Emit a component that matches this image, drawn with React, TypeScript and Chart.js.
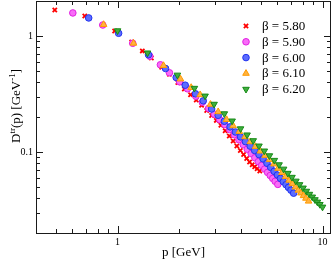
import React, { useEffect, useRef } from 'react';
import { Chart, registerables } from 'chart.js';
import { drawPoint } from 'chart.js/helpers';

Chart.register(...registerables);

// ---- data (p in GeV, D^tr(p) in GeV^-1) ----
const p580 = [0.494, 0.692, 0.968, 1.172, 1.321, 1.462, 1.641, 1.791, 1.968, 2.118, 2.270, 2.421, 2.570, 2.723, 2.877, 3.034, 3.192, 3.350, 3.508, 3.664, 3.819, 3.972, 4.121, 4.266, 4.406, 4.539, 4.667, 4.797, 4.943];
const d580 = [1.675, 1.486, 1.102, 0.885, 0.743, 0.646, 0.538, 0.468, 0.397, 0.349, 0.311, 0.280, 0.252, 0.2275, 0.206, 0.187, 0.170, 0.152, 0.137, 0.124, 0.1126, 0.103, 0.0948, 0.0879, 0.0819, 0.0776, 0.0745, 0.0715, 0.0684];

const p590 = [0.605, 0.847, 1.186, 1.436, 1.618, 1.791, 2.009, 2.193, 2.410, 2.594, 2.780, 2.965, 3.148, 3.334, 3.524, 3.715, 3.908, 4.102, 4.295, 4.487, 4.677, 4.864, 5.047, 5.224, 5.395, 5.559, 5.715, 5.875, 6.053];
const d590 = [1.578, 1.242, 0.864, 0.669, 0.564, 0.481, 0.402, 0.350, 0.302, 0.268, 0.237, 0.2115, 0.190, 0.172, 0.156, 0.1407, 0.1273, 0.1156, 0.1055, 0.0967, 0.0890, 0.0824, 0.0765, 0.0712, 0.0666, 0.0626, 0.0591, 0.0558, 0.0525];

const p600 = [0.723, 1.012, 1.416, 1.714, 1.932, 2.138, 2.399, 2.618, 2.877, 3.097, 3.319, 3.540, 3.758, 3.981, 4.207, 4.436, 4.667, 4.898, 5.129, 5.358, 5.585, 5.808, 6.026, 6.237, 6.442, 6.637, 6.823, 7.015, 7.228];
const d600 = [1.429, 1.054, 0.688, 0.524, 0.438, 0.376, 0.317, 0.2756, 0.2344, 0.2067, 0.1837, 0.1644, 0.1485, 0.1348, 0.1227, 0.1122, 0.1029, 0.0948, 0.0871, 0.0799, 0.0736, 0.0680, 0.0632, 0.0591, 0.0554, 0.0522, 0.0494, 0.0468, 0.0441];

const p610 = [0.855, 1.197, 1.675, 2.028, 2.286, 2.529, 2.838, 3.097, 3.404, 3.664, 3.926, 4.188, 4.446, 4.710, 4.977, 5.248, 5.521, 5.794, 6.067, 6.339, 6.607, 6.871, 7.129, 7.379, 7.621, 7.852, 8.072, 8.299, 8.551];
const d610 = [1.253, 0.865, 0.555, 0.425, 0.359, 0.311, 0.257, 0.222, 0.190, 0.168, 0.150, 0.1349, 0.1223, 0.1113, 0.1016, 0.0932, 0.0857, 0.0786, 0.0720, 0.0663, 0.0613, 0.0569, 0.0531, 0.0497, 0.0467, 0.0442, 0.0419, 0.0398, 0.0376];

const p620 = [1.0, 1.400, 1.959, 2.371, 2.673, 2.958, 3.319, 3.622, 3.981, 4.285, 4.592, 4.898, 5.200, 5.508, 5.821, 6.138, 6.457, 6.776, 7.096, 7.413, 7.727, 8.035, 8.337, 8.630, 8.913, 9.183, 9.441, 9.705, 10.0];
const d620 = [1.109, 0.714, 0.460, 0.354, 0.3035, 0.258, 0.2136, 0.185, 0.1585, 0.1403, 0.1252, 0.1126, 0.1020, 0.0928, 0.0847, 0.0776, 0.0712, 0.0655, 0.0605, 0.0561, 0.0523, 0.0489, 0.0459, 0.0432, 0.0409, 0.0388, 0.0370, 0.0353, 0.0335];

const seriesLabels = ['β = 5.80', 'β = 5.90', 'β = 6.00', 'β = 6.10', 'β = 6.20'];

const xTicks = [0.4, 0.5, 0.6, 0.7, 0.8, 0.9, 1, 2, 3, 4, 5, 6, 7, 8, 9, 10];
const xTickLabels = ['1', '10'];
const yTicks = [0.02, 0.03, 0.04, 0.05, 0.06, 0.07, 0.08, 0.09, 0.1, 0.2, 0.3, 0.4, 0.5, 0.6, 0.7, 0.8, 0.9, 1, 2];
const yTickLabels = ['0.1', '1'];

const SERIF = '"Liberation Serif", "Times New Roman", serif';

const isDecade = (v: number) => {
  const l = Math.log10(v);
  return Math.abs(l - Math.round(l)) < 1e-6;
};

const toPts = (px: number[], py: number[]) => px.map((x, i) => ({ x, y: py[i] }));

const styles = [
  { pointStyle: 'crossRot', radius: 3, rotation: 0, borderWidth: 1.8, fill: '#ff0000', stroke: '#ff0000' },
  { pointStyle: 'circle', radius: 3.3, rotation: 0, borderWidth: 1, fill: '#f86cf8', stroke: '#e020e0' },
  { pointStyle: 'circle', radius: 3.3, rotation: 0, borderWidth: 1, fill: '#5c6cff', stroke: '#2233ee' },
  { pointStyle: 'triangle', radius: 3.8, rotation: 0, borderWidth: 1, fill: '#ffb340', stroke: '#ff9a00' },
  { pointStyle: 'triangle', radius: 3.8, rotation: 180, borderWidth: 1, fill: '#3fae3f', stroke: '#168a16' },
];

const framePlugin = {
  id: 'frameTicks',
  afterDatasetsDraw(chart: any) {
    const { ctx, chartArea: a, scales } = chart;
    ctx.save();
    ctx.strokeStyle = '#1a1a1a';
    ctx.lineWidth = 1;
    ctx.beginPath();
    for (const t of scales.x.ticks) {
      const px = Math.round(scales.x.getPixelForValue(t.value)) + 0.5;
      const len = isDecade(t.value) ? 7 : 4;
      ctx.moveTo(px, a.bottom);
      ctx.lineTo(px, a.bottom - len);
      ctx.moveTo(px, a.top);
      ctx.lineTo(px, a.top + len);
    }
    for (const t of scales.y.ticks) {
      const py = Math.round(scales.y.getPixelForValue(t.value)) + 0.5;
      const len = isDecade(t.value) ? 7 : 4;
      ctx.moveTo(a.left, py);
      ctx.lineTo(a.left + len, py);
      ctx.moveTo(a.right, py);
      ctx.lineTo(a.right - len, py);
    }
    ctx.stroke();
    ctx.strokeRect(a.left + 0.5, a.top + 0.5, a.right - a.left - 1, a.bottom - a.top);
    ctx.restore();
  },
  afterDraw(chart: any) {
    const { ctx } = chart;
    // legend
    ctx.save();
    chart.data.datasets.forEach((ds: any, i: number) => {
      const st = styles[i];
      const y = 26 + i * 15.8;
      ctx.fillStyle = st.fill;
      ctx.strokeStyle = st.stroke;
      ctx.lineWidth = st.borderWidth;
      drawPoint(ctx, { pointStyle: st.pointStyle, radius: st.radius, rotation: st.rotation, borderWidth: st.borderWidth }, 246, y);
      ctx.fillStyle = '#000';
      ctx.font = '13px ' + SERIF;
      ctx.textBaseline = 'middle';
      ctx.textAlign = 'left';
      ctx.fillText(ds.label, 262, y + 0.5);
    });
    ctx.restore();

    // y axis title with superscripts
    ctx.save();
    ctx.translate(19.5, 106);
    ctx.rotate(-Math.PI / 2);
    ctx.fillStyle = '#000';
    ctx.textBaseline = 'alphabetic';
    const parts = [
      { t: 'D', sup: false },
      { t: 'tr', sup: true },
      { t: '(p) [GeV', sup: false },
      { t: '-1', sup: true },
      { t: ']', sup: false },
    ];
    const fontFor = (sup: boolean) => (sup ? '9px ' : '13px ') + SERIF;
    let total = 0;
    for (const p of parts) {
      ctx.font = fontFor(p.sup);
      total += ctx.measureText(p.t).width;
    }
    let x = -total / 2;
    for (const p of parts) {
      ctx.font = fontFor(p.sup);
      ctx.fillText(p.t, x, p.sup ? -5 : 0);
      x += ctx.measureText(p.t).width;
    }
    ctx.restore();
  },
};

export default function App() {
  const ref = useRef<HTMLCanvasElement | null>(null);
  useEffect(() => {
    document.body.style.margin = '0';
    if (!ref.current) return;
    const all = [
      toPts(p580, d580),
      toPts(p590, d590),
      toPts(p600, d600),
      toPts(p610, d610),
      toPts(p620, d620),
    ];
    const chart = new Chart(ref.current, {
      type: 'scatter',
      data: {
        datasets: all.map((pts, i) => ({
          label: seriesLabels[i],
          data: pts,
          order: 4 - i,
          pointStyle: styles[i].pointStyle as any,
          pointRadius: styles[i].radius,
          pointRotation: styles[i].rotation,
          pointBorderWidth: styles[i].borderWidth,
          pointBackgroundColor: styles[i].fill,
          pointBorderColor: styles[i].stroke,
          showLine: false,
        })),
      },
      options: {
        animation: false,
        responsive: false,
        devicePixelRatio: 1,
        layout: { autoPadding: false, padding: { top: 1, right: 1, left: 0, bottom: 0 } },
        plugins: { legend: { display: false }, tooltip: { enabled: false } },
        scales: {
          x: {
            type: 'logarithmic',
            min: 0.4,
            max: 11,
            border: { display: false },
            grid: { display: false, drawTicks: false, tickLength: 0 },
            afterBuildTicks: (s: any) => {
              s.ticks = xTicks.map((v) => ({ value: v, major: isDecade(v) }));
            },
            afterFit: (s: any) => {
              s.height = 27;
              s.paddingLeft = 0;
              s.paddingRight = 0;
            },
            ticks: {
              autoSkip: false,
              maxRotation: 0,
              padding: 3,
              color: '#000',
              font: { family: SERIF, size: 10 },
              callback: (v: any) => {
                const s = String(Number(v));
                return xTickLabels.includes(s) ? s : '';
              },
            },
            title: {
              display: true,
              text: 'p [GeV]',
              color: '#000',
              font: { family: SERIF, size: 13 },
              padding: { top: 0, bottom: 0 },
            },
          },
          y: {
            type: 'logarithmic',
            min: 0.02,
            max: 2,
            border: { display: false },
            grid: { display: false, drawTicks: false, tickLength: 0 },
            afterBuildTicks: (s: any) => {
              s.ticks = yTicks.map((v) => ({ value: v, major: isDecade(v) }));
            },
            afterFit: (s: any) => {
              s.width = 36;
              s.paddingTop = 0;
              s.paddingBottom = 0;
            },
            ticks: {
              autoSkip: false,
              padding: 3,
              color: '#000',
              font: { family: SERIF, size: 10 },
              callback: (v: any) => {
                const s = String(Number(v));
                return yTickLabels.includes(s) ? s : '';
              },
            },
          },
        },
      },
      plugins: [framePlugin],
    });
    return () => chart.destroy();
  }, []);
  return (
    <div style={{ position: 'fixed', left: 0, top: 0, width: 332, height: 260, background: '#fff' }}>
      <canvas ref={ref} width={332} height={260} style={{ width: 332, height: 260, display: 'block' }} />
    </div>
  );
}
